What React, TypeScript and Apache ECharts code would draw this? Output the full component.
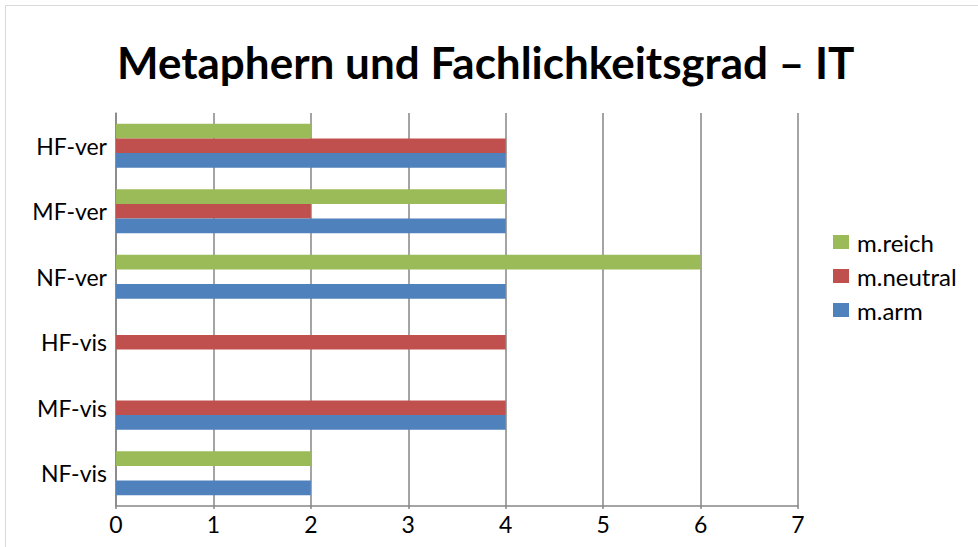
import React, { useEffect, useRef } from "react";
import * as echarts from "echarts";

const categories = ["NF-vis", "MF-vis", "HF-vis", "NF-ver", "MF-ver", "HF-ver"];
const mArm = [2, 4, 0, 4, 4, 4];
const mNeutral = [0, 4, 4, 0, 2, 4];
const mReich = [2, 0, 0, 6, 4, 2];
const xTicks = [0, 1, 2, 3, 4, 5, 6, 7];

export default function App() {
  const ref = useRef<HTMLDivElement>(null);
  useEffect(() => {
    const chart = echarts.init(ref.current!, null, { renderer: "svg" });
    const font = "Lato, 'Noto Sans', sans-serif";
    chart.setOption({
      animation: false,
      backgroundColor: "#fff",
      graphic: [
        {
          type: "rect",
          shape: { x: 5.5, y: 5.5, width: 1000, height: 600 },
          style: { fill: "none", stroke: "#d9d9d9", lineWidth: 1 },
          silent: true,
          z: -1,
        },
      ],
      title: {
        text: "Metaphern und Fachlichkeitsgrad – IT",
        left: 117,
        top: 40,
        padding: 0,
        textStyle: { fontFamily: font, fontWeight: "bold", fontSize: 44, color: "#000" },
      },
      legend: {
        orient: "vertical",
        left: 833,
        top: 230,
        padding: 0,
        itemWidth: 16,
        itemHeight: 14,
        itemGap: 10,
        icon: "rect",
        data: ["m.reich", "m.neutral", "m.arm"],
        textStyle: { fontFamily: font, fontSize: 24, color: "#000", padding: [0, 0, 0, 3] },
      },
      grid: { left: 116, right: 180, top: 113, bottom: 41 },
      xAxis: {
        type: "value",
        min: xTicks[0],
        max: xTicks[xTicks.length - 1],
        interval: 1,
        axisLine: { show: true, lineStyle: { color: "#868686", width: 1.5 } },
        axisTick: { show: true, length: 3, lineStyle: { color: "#868686", width: 1.5 } },
        splitLine: { show: true, lineStyle: { color: "#868686", width: 1.5 } },
        axisLabel: { fontFamily: font, fontSize: 23, color: "#000", margin: 6 },
      },
      yAxis: {
        type: "category",
        data: categories,
        axisLine: { show: true, lineStyle: { color: "#868686", width: 1.5 } },
        axisTick: { show: false },
        axisLabel: { fontFamily: font, fontSize: 23, color: "#000", margin: 9, padding: [0, 0, 6, 0] },
      },
      series: [
        { name: "m.reich", type: "bar", data: mReich, itemStyle: { color: "#9BBB59" }, barGap: "0%", barCategoryGap: "33%" },
        { name: "m.neutral", type: "bar", data: mNeutral, itemStyle: { color: "#C0504D" }, barGap: "0%", barCategoryGap: "33%" },
        { name: "m.arm", type: "bar", data: mArm, itemStyle: { color: "#4F81BD" }, barGap: "0%", barCategoryGap: "33%" },
      ],
    });
    return () => chart.dispose();
  }, []);
  return (
    <div
      ref={ref}
      style={{ position: "fixed", left: 0, top: 0, width: 978, height: 547 }}
    />
  );
}
